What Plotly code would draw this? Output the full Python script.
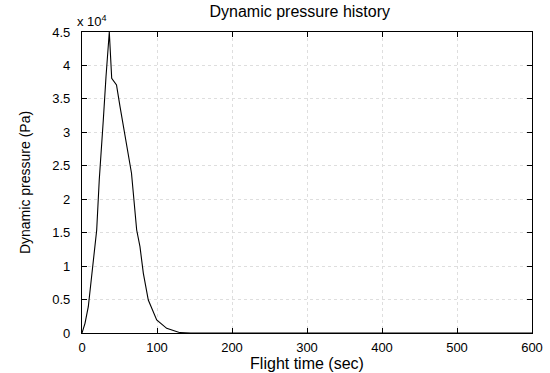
import plotly.graph_objects as go

# Flight time (sec) and dynamic pressure (Pa)
time_s = [0, 4, 8.4, 15.1, 19.6, 23, 24.4, 28.4, 32, 36.4, 39.6, 46, 50.7, 58.7,
          66, 72.9, 77.3, 81.8, 88.4, 99.6, 112.9, 130.7, 145, 200, 300, 400, 500, 600]
q_pa = [0, 1450, 3930, 10420, 15400, 22870, 24870, 31840, 38300, 45000, 38070, 37080,
        33830, 28360, 23880, 15400, 12900, 8920, 4930, 1940, 700, 50, 0, 0, 0, 0, 0, 0]

x_ticks = [0, 100, 200, 300, 400, 500, 600]
y_ticks = [0, 5000, 10000, 15000, 20000, 25000, 30000, 35000, 40000, 45000]
y_tick_labels = ["0", "0.5", "1", "1.5", "2", "2.5", "3", "3.5", "4", "4.5"]

font_family = "Liberation Sans, Arial, sans-serif"

fig = go.Figure()
fig.add_trace(go.Scatter(x=time_s, y=q_pa, mode="lines",
                         line=dict(color="black", width=1.1), showlegend=False))

axis_common = dict(
    showline=True, linecolor="black", linewidth=1.2, mirror="ticks",
    ticks="inside", ticklen=5, tickcolor="black",
    showgrid=True, gridcolor="#dedede", griddash="dot", gridwidth=1,
    zeroline=False, automargin=False,
    tickfont=dict(family=font_family, size=13, color="black"),
)

fig.update_layout(
    width=550, height=373,
    margin=dict(l=82, r=18, t=32, b=40),
    paper_bgcolor="white", plot_bgcolor="white",
    title=dict(text="Dynamic pressure history", x=0.545, xanchor="center",
               y=0.985, yanchor="top", automargin=False,
               font=dict(family=font_family, size=16, color="black")),
    xaxis=dict(range=[0, 600], tickvals=x_ticks, ticklabelstandoff=2,
               title=dict(text="Flight time (sec)", standoff=3,
                          font=dict(family=font_family, size=16, color="black")),
               **axis_common),
    yaxis=dict(range=[0, 45000], tickvals=y_ticks, ticktext=y_tick_labels,
               ticklabelstandoff=8,
               title=dict(text="Dynamic pressure (Pa)", standoff=18,
                          font=dict(family=font_family, size=14, color="black")),
               **axis_common),
)

fig.add_annotation(text="x 10<sup>4</sup>", xref="paper", yref="paper",
                   x=0, y=1, xanchor="left", yanchor="bottom", xshift=-7, yshift=1,
                   showarrow=False,
                   font=dict(family=font_family, size=13, color="black"))

fig.write_html("out.html")
